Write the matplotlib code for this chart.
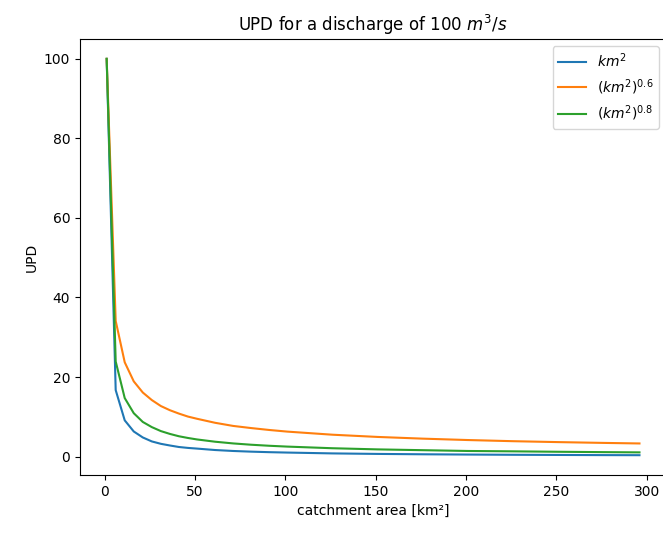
import matplotlib
matplotlib.use("agg")
import matplotlib.pyplot as plt

## catchment area [km2] and UPD
area = [1, 6, 11, 16, 21, 26, 31, 36, 41, 46, 51, 61, 71, 81, 91, 101,
        126, 151, 176, 201, 226, 251, 276, 296]
upd_km2 = [100, 16.7, 9.1, 6.3, 4.8, 3.8, 3.2, 2.78, 2.4, 2.17, 2.0, 1.64, 1.4, 1.23, 1.1, 1.0,
           0.79, 0.66, 0.57, 0.5, 0.44, 0.4, 0.36, 0.34]
upd_km2_06 = [100, 34.1, 23.7, 18.9, 16.1, 14.2, 12.7, 11.65, 10.8, 10.05, 9.5, 8.49, 7.7, 7.16, 6.68, 6.27,
              5.49, 4.93, 4.5, 4.15, 3.86, 3.63, 3.43, 3.29]
upd_km2_08 = [100, 23.9, 14.7, 10.9, 8.7, 7.4, 6.4, 5.69, 5.1, 4.67, 4.3, 3.73, 3.3, 2.97, 2.71, 2.5,
              2.09, 1.8, 1.6, 1.4, 1.31, 1.2, 1.11, 1.05]

fig = plt.figure(figsize=(6.63, 5.33), dpi=100)
ax = fig.add_axes([0.1207, 0.1088, 0.884, 0.818])

ax.plot(area, upd_km2, label="$km^2$")
ax.plot(area, upd_km2_06, label="$(km^2)^{0.6}$")
ax.plot(area, upd_km2_08, label="$(km^2)^{0.8}$")

ax.legend(loc="upper right")
ax.set_xlabel("catchment area [km²]")
ax.set_ylabel("UPD")
ax.set_title("UPD for a discharge of 100 $m^3/s$")

fig.savefig("out.png", dpi=100)
